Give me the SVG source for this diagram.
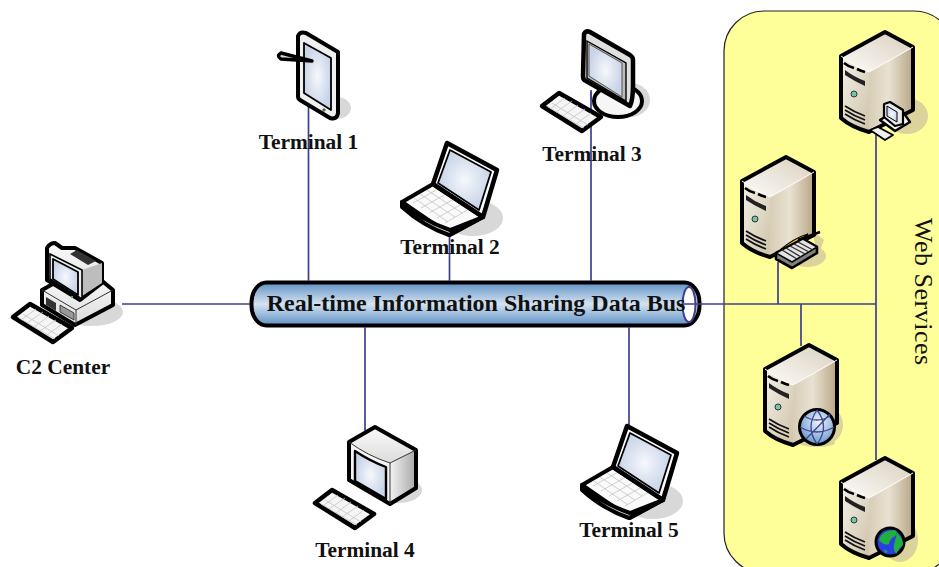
<svg xmlns="http://www.w3.org/2000/svg" xmlns:xlink="http://www.w3.org/1999/xlink" width="939" height="567" viewBox="0 0 939 567">
<style>
.lbl{font:bold 21.400px "Liberation Serif","Times New Roman",serif;fill:#111;text-anchor:middle}
.con{stroke:#3f3f8f;stroke-width:1.700;fill:none}
.o{stroke:#000;stroke-width:4;stroke-linejoin:round;stroke-linecap:round}
.t{stroke:#333;stroke-width:1;stroke-linejoin:round;fill:none}
.sh{fill:#d8d8d8}
.shy{fill:#dcd29c}
.scr{fill:url(#gScr);stroke:#000;stroke-width:1.800;stroke-linejoin:round}
.vent{stroke:#111;stroke-width:1.700;fill:none}
.key{stroke:#c4c4c4;stroke-width:.8;fill:none}
</style>
<defs>
<linearGradient id="gBus" x1="0" y1="0" x2="0" y2="1"><stop offset="0" stop-color="#5f90c4"/><stop offset=".5" stop-color="#d4e3f1"/><stop offset="1" stop-color="#5f90c4"/></linearGradient>
<radialGradient id="gScr"><stop offset="0" stop-color="#f6f8fc"/><stop offset="1" stop-color="#c8d4e8"/></radialGradient>
<linearGradient id="gTop" x1="0" y1="1" x2="1" y2="0"><stop offset="0" stop-color="#fdfcf9"/><stop offset="1" stop-color="#d9cfbd"/></linearGradient>
<linearGradient id="gFront" x1="0" y1="0" x2="1" y2="1"><stop offset="0" stop-color="#f5f2ea"/><stop offset="1" stop-color="#cfc3a9"/></linearGradient>
<linearGradient id="gSide" x1="0" y1="0" x2="1" y2="0"><stop offset="0" stop-color="#d8cdb6"/><stop offset=".45" stop-color="#e9e2d2"/><stop offset="1" stop-color="#b7a684"/></linearGradient>
<linearGradient id="gGrey" x1="0" y1="0" x2="1" y2="0"><stop offset="0" stop-color="#f2f2f2"/><stop offset="1" stop-color="#a8a8a8"/></linearGradient>
<linearGradient id="gLight" x1="0" y1="0" x2="0" y2="1"><stop offset="0" stop-color="#fafafa"/><stop offset="1" stop-color="#dcdcdc"/></linearGradient>
<radialGradient id="gGlobe" cx=".55" cy=".35" r=".7"><stop offset="0" stop-color="#eef4fb"/><stop offset="1" stop-color="#5f90c8"/></radialGradient>

<g id="server">
<path d="M28 16L72 -9V54L28 76Z" fill="url(#gSide)"/>
<path d="M0 0Q14 11 28 16V76Q10 71 0 62Z" fill="url(#gFront)"/>
<path d="M0 0L44 -24L72 -9L28 16Q14 11 0 0Z" fill="url(#gTop)"/>
<path d="M0 0L44 -24L72 -9V54L28 76Q10 71 0 62Z" fill="none" class="o"/>
<path d="M0 0Q14 11 28 16L72 -9" fill="none" stroke="#fff" stroke-width="1"/>
<path d="M3 7Q8 11 13 12M16 13Q20 15 24 16" fill="none" stroke="#000" stroke-width="2.600"/>
<path d="M4 14Q13 21 24 25V30Q13 25 4 19Z" fill="#222"/>
<circle cx="13" cy="38" r="3" fill="#6fc8a8" stroke="#333" stroke-width="1"/>
<path d="M4 50Q13 56 24 60M4 54Q13 60 24 64M4 58Q13 64 24 68" class="vent"/>
</g>

<g id="laptop">
<ellipse cx="72" cy="18" rx="30" ry="18" class="sh"/>
<path d="M1 2L32 -16L82 17L49 35Z" fill="#fafafa" class="o"/>
<path d="M1 2V7Q22 26 48 35L82 17L49 30Q20 20 1 2Z" fill="#d8d8d8" class="o"/>
<path d="M12 3L37 -11M20 8L45 -6M28 13L53 -1M36 18L61 4M44 23L68 9M19 -6L54 17M13 -2L47 22M26 -10L61 13" class="key"/>
<path d="M32 -16L46 -57L96 -30L82 17Z" fill="#fff" class="o" style="stroke-width:4.500"/>
<path d="M37 -17L49 -50L90 -28L78 10Z" class="scr"/>
</g>

<g id="keyboard">
<path d="M1 0L18 -13L60 11L41 25Z" fill="#f5f5f5" stroke="#000" stroke-width="4.500" stroke-linejoin="round"/>
<path d="M9 3L24 -8M15 6L31 -5M22 10L37 -1M28 14L44 3M35 18L50 7M11 -3L47 19M7 1L43 22" class="key"/>
</g>
</defs>

<rect x="0" y="0" width="939" height="567" fill="#fff"/>

<g id="web-services">
<rect x="724" y="11" width="230" height="562" rx="40" ry="40" fill="#ffff99" stroke="#222" stroke-width="1.200"/>
<text transform="translate(915 218) rotate(90)" font-family="'Liberation Serif','Times New Roman',serif" font-size="26" letter-spacing=".5" fill="#111">Web Services</text>
</g>

<g id="bus">
<rect x="251.500" y="282.500" width="448" height="43" rx="15" ry="20" fill="url(#gBus)" stroke="#000" stroke-width="4"/>
<ellipse cx="689" cy="304.500" rx="6.500" ry="17.500" fill="#fff" stroke="#3f3f8f" stroke-width="2"/>
<text x="476" y="311" class="lbl" style="font-size:24px">Real-time Information Sharing Data Bus</text>
</g>

<g id="connectors">
<path class="con" d="M308.500 105V281M449.500 236V281M591 90V281M122 304H250M683 304H876M778 262V304M801 304V346M876 135V460M365 327V432M629 327V427"/>
</g>

<g id="terminal-1">
<ellipse cx="336" cy="108" rx="15" ry="11" class="sh"/>
<path d="M298 36Q300 31 306 33L338 52V113Q337 120 330 118L300 100Q298 99 298 96Z" fill="#f0f0f0" class="o"/>
<path d="M304 43L331 58V110L304 93Z" class="scr"/>
<path d="M281 53L312 61L281 59Q276 56 281 53Z" fill="#ddd" stroke="#000" stroke-width="3.400" stroke-linejoin="round"/>
<circle cx="324" cy="110" r="1.300" fill="#5a8a6a" stroke="#222" stroke-width=".5"/>
<text x="308.500" y="149" class="lbl">Terminal 1</text>
</g>

<g id="terminal-2">
<use xlink:href="#laptop" href="#laptop" x="401" y="200"/>
<text x="450" y="254" class="lbl">Terminal 2</text>
</g>

<g id="terminal-3">
<ellipse cx="630" cy="100" rx="20" ry="17" class="sh"/>
<ellipse cx="618" cy="101" rx="24" ry="16" fill="#f6f6f6" class="o"/>
<path d="M584 34Q586 30 590 32L630 55Q633 57 633 60V85Q633 100 630 106L586 81Q583 80 583 76Z" fill="#e0e0e0" class="o" style="stroke-width:4.500"/>
<path d="M587 41L626 63V101L587 78Z" fill="#bbb" stroke="#000" stroke-width="1.400"/>
<path d="M589 44L622 63V97L589 76Z" class="scr" style="stroke:#555;stroke-width:1"/>
<path d="M591 92V100" class="con"/>
<use xlink:href="#keyboard" href="#keyboard" x="541" y="106"/>
<text x="592" y="161" class="lbl">Terminal 3</text>
</g>

<g id="terminal-4">
<ellipse cx="398" cy="490" rx="24" ry="13" class="sh"/>
<path d="M390 463L416 450V488L390 504Z" fill="url(#gGrey)"/>
<path d="M349 442L375 427L416 450L390 463Q365 455 349 442Z" fill="url(#gLight)"/>
<path d="M349 442Q368 456 390 463V504L349 480Z" fill="#f4f4f4"/>
<path d="M349 442L375 427L416 450V488L390 504L349 480Z" fill="none" class="o"/>
<path d="M355 451Q370 461 386 467V499L355 481Z" class="scr" style="stroke-width:2.400"/>
<path d="M349 442Q368 456 390 463L416 450M390 463V504" class="t"/>
<use xlink:href="#keyboard" href="#keyboard" x="314" y="503"/>
<text x="365" y="557" class="lbl">Terminal 4</text>
</g>

<g id="terminal-5">
<use xlink:href="#laptop" href="#laptop" x="581" y="483"/>
<text x="629" y="537" class="lbl">Terminal 5</text>
</g>

<g id="c2-center">
<ellipse cx="92" cy="312" rx="31" ry="14" class="sh"/>
<path d="M42 290L60 280L95 275L113 290V305L75 325L42 305Z" fill="url(#gLight)" class="o"/>
<path d="M42 290L76 310L113 290M76 310V325" class="t"/>
<path d="M46 297L56 303V311L46 305Z" fill="#333"/>
<path d="M60 305L74 313V320L60 312Z" fill="#999" stroke="#222" stroke-width=".8"/>
<path d="M47 248Q50 243 55 243L62 248L75 248L102 263V283L80 300L47 280Z" fill="url(#gLight)" class="o"/>
<path d="M82 270L102 263V283L82 296Z" fill="#bdbdbd"/>
<path d="M77 250L96 261L88 265L70 254Z" fill="#333"/>
<path d="M50 254L82 270V299L50 279Z" fill="#eee" stroke="#000" stroke-width="1.600"/>
<path d="M53 259L78 272V295L53 279Z" class="scr"/>
<circle cx="72" cy="297" r="1.200" fill="#4a8"/>
<use xlink:href="#keyboard" href="#keyboard" x="12" y="317"/>
<text x="63" y="374" class="lbl">C2 Center</text>
</g>

<g id="server-1">
<ellipse cx="907" cy="116" rx="21" ry="18" class="shy"/>
<use xlink:href="#server" href="#server" x="841" y="56"/>
<path d="M880 120L888 115L903 112L910 122L895 131Z" fill="#f4f4f4" stroke="#000" stroke-width="2.400" stroke-linejoin="round"/>
<path d="M884 104L890 102L903 110V124L895 126L884 117Z" fill="#e8e8e8" stroke="#000" stroke-width="2.200" stroke-linejoin="round"/>
<path d="M887 106L897 112V122L887 116Z" class="scr" style="stroke-width:1"/>
<path d="M870 130L878 127L893 135L885 140Z" fill="#eee" stroke="#000" stroke-width="1.800" stroke-linejoin="round"/>
</g>

<g id="server-2">
<ellipse cx="807" cy="256" rx="19" ry="11" class="shy"/>
<path d="M812 230L824 240L818 256Z" class="shy"/>
<use xlink:href="#server" href="#server" x="742" y="181"/>
<path d="M780 250Q794 238 808 234L794 246Z" fill="#f0c020" stroke="#000" stroke-width="1.200"/>
<path d="M798 240L820 232" stroke="#000" stroke-width="2.400"/>
<path d="M776 253L803 239L817 247V253L792 268L776 259Z" fill="#808080" stroke="#000" stroke-width="2.600" stroke-linejoin="round"/>
<path d="M776 253L792 262L817 247L803 239Z" fill="#e4e4e4" stroke="#000" stroke-width="1.500" stroke-linejoin="round"/>
<path d="M782 250L797 259M786 248L801 257M790 246L805 254M794 244L809 252M798 242L813 250" stroke="#333" stroke-width="1.400"/>
</g>

<g id="server-3">
<ellipse cx="823" cy="425" rx="20" ry="20" class="shy"/>
<ellipse cx="817" cy="443" rx="18" ry="4" class="shy"/>
<use xlink:href="#server" href="#server" x="765" y="369"/>
<circle cx="817" cy="427" r="17.500" fill="url(#gGlobe)" stroke="#000" stroke-width="3"/>
<path d="M800 427Q817 437 834 427M804 416Q817 424 830 416M817 410Q805 427 817 444M817 410Q830 427 817 444M806 439Q818 427 830 414" fill="none" stroke="#3f4590" stroke-width="1.300"/>
</g>

<g id="server-4">
<ellipse cx="900" cy="540" rx="18" ry="22" class="shy"/>
<use xlink:href="#server" href="#server" x="841" y="482"/>
<circle cx="890" cy="542" r="14" fill="#2b3fe0" stroke="#000" stroke-width="3"/>
<path d="M879 540Q882 530 895 530Q900 534 892 538Q889 541 889 544Q884 546 879 540ZM897 533Q903 538 903 545Q899 548 896 554Q892 548 895 541Q896 537 897 533ZM884 549L888 552L885 553Z" fill="#1fb040"/>
</g>
</svg>
